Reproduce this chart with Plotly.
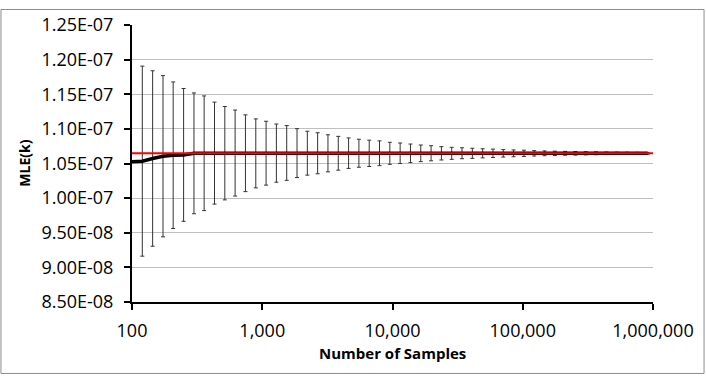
import plotly.graph_objects as go

# number of samples (log spaced)
samples = [100, 120, 144, 173, 207, 249, 299, 358, 430, 516, 619, 743, 892,
           1070, 1284, 1541, 1849, 2219, 2662, 3195, 3834, 4601, 5521, 6625,
           7950, 9540, 11448, 13737, 16484, 19781, 23738, 28485, 34182, 41019,
           49222, 59067, 70880, 85056, 102068, 122481, 146977, 176373, 211647,
           253977, 304772, 365726, 438871, 526646, 631975, 758370, 910044]

# mean MLE(k) at each sample size
mle_mean = [1.0525e-07, 1.0534e-07, 1.0572e-07, 1.0605e-07, 1.0620e-07, 1.0624e-07,
            1.0647e-07, 1.0648e-07, 1.0650e-07, 1.0649e-07, 1.0651e-07, 1.0648e-07,
            1.0646e-07, 1.0649e-07, 1.0650e-07, 1.0652e-07, 1.0650e-07, 1.0649e-07,
            1.0648e-07, 1.0647e-07, 1.0648e-07, 1.0649e-07, 1.0648e-07, 1.0647e-07,
            1.0648e-07, 1.0647e-07, 1.0648e-07, 1.0647e-07, 1.0647e-07, 1.0648e-07,
            1.0647e-07, 1.0647e-07, 1.0648e-07, 1.0647e-07, 1.0647e-07, 1.0647e-07,
            1.0647e-07, 1.0647e-07, 1.0647e-07, 1.0647e-07, 1.0647e-07, 1.0647e-07,
            1.0647e-07, 1.0647e-07, 1.0647e-07, 1.0647e-07, 1.0647e-07, 1.0647e-07,
            1.0647e-07, 1.0647e-07, 1.0647e-07]

# error bar half-heights
mle_err = [None, 1.372e-08, 1.267e-08, 1.164e-08, 1.058e-08, 9.59e-09, 8.72e-09,
           8.28e-09, 7.36e-09, 6.74e-09, 6.21e-09, 5.54e-09, 4.98e-09, 4.61e-09,
           4.20e-09, 3.95e-09, 3.53e-09, 3.17e-09, 2.96e-09, 2.68e-09, 2.44e-09,
           2.20e-09, 2.02e-09, 1.90e-09, 1.79e-09, 1.59e-09, 1.48e-09, 1.34e-09,
           1.20e-09, 1.09e-09, 9.6e-10, 8.7e-10, 7.9e-10, 7.3e-10, 6.6e-10,
           6.1e-10, 5.4e-10, 4.9e-10, 4.5e-10, 3.9e-10, 3.5e-10, 3.1e-10,
           2.8e-10, 2.6e-10, 2.3e-10, 2.1e-10, 1.9e-10, 1.7e-10, 1.6e-10,
           1.4e-10, 1.3e-10]

true_k = 1.0647e-07

x_tickvals = [100, 1000, 10000, 100000, 1000000]
x_ticktext = ["100", "1,000", "10,000", "100,000", "1,000,000"]
y_tickvals = [8.5e-08, 9.0e-08, 9.5e-08, 1.0e-07, 1.05e-07, 1.1e-07, 1.15e-07, 1.2e-07, 1.25e-07]
y_ticktext = ["8.50E-08", "9.00E-08", "9.50E-08", "1.00E-07", "1.05E-07",
              "1.10E-07", "1.15E-07", "1.20E-07", "1.25E-07"]

font_name = "Open Sans"

fig = go.Figure()

fig.add_trace(go.Scatter(
    x=samples,
    y=mle_mean,
    mode="lines",
    line=dict(color="black", width=3.5),
    error_y=dict(type="data", array=mle_err, visible=True,
                 color="#333333", thickness=1, width=2),
    showlegend=False
))

fig.add_trace(go.Scatter(
    x=[samples[0], x_tickvals[-1]],
    y=[true_k, true_k],
    mode="lines",
    line=dict(color="#ff0000", width=2),
    showlegend=False
))

fig.update_layout(
    width=706,
    height=377,
    margin=dict(l=132, r=53, t=17, b=75),
    paper_bgcolor="white",
    plot_bgcolor="white",
    font=dict(family=font_name, size=18, color="black"),
    xaxis=dict(
        type="log",
        range=[2, 6],
        tickvals=x_tickvals,
        ticktext=x_ticktext,
        showgrid=False,
        showline=True,
        linecolor="black",
        linewidth=2,
        ticks="outside",
        ticklen=6,
        tickwidth=2,
        tickcolor="black",
        ticklabelstandoff=5,
        zeroline=False,
    ),
    yaxis=dict(
        range=[8.5e-08, 1.25e-07],
        tickvals=y_tickvals,
        ticktext=y_ticktext,
        showgrid=True,
        gridcolor="#bfbfbf",
        gridwidth=1,
        showline=True,
        linecolor="black",
        linewidth=2,
        ticks="outside",
        ticklen=6,
        tickwidth=2,
        tickcolor="black",
        ticklabelstandoff=7,
        zeroline=False,
    ),
    annotations=[
        dict(text="<b>MLE(k)</b>", xref="paper", yref="paper", x=-0.207, y=0.5,
             textangle=-90, showarrow=False, font=dict(size=14),
             xanchor="center", yanchor="middle"),
        dict(text="<b>Number of Samples</b>", xref="paper", yref="paper", x=0.5, y=-0.184,
             showarrow=False, font=dict(size=15), xanchor="center", yanchor="middle"),
    ],
    shapes=[
        dict(type="rect", xref="paper", yref="paper",
             x0=-0.2515, x1=1.098, y0=-0.258, y1=1.056,
             line=dict(color="#8c8c8c", width=1), layer="below")
    ],
)

# drop the browser's default body margin so the figure sits at (0, 0)
fig.write_html("out.html", config={"displayModeBar": False},
               post_script="document.body.style.margin = '0';")
